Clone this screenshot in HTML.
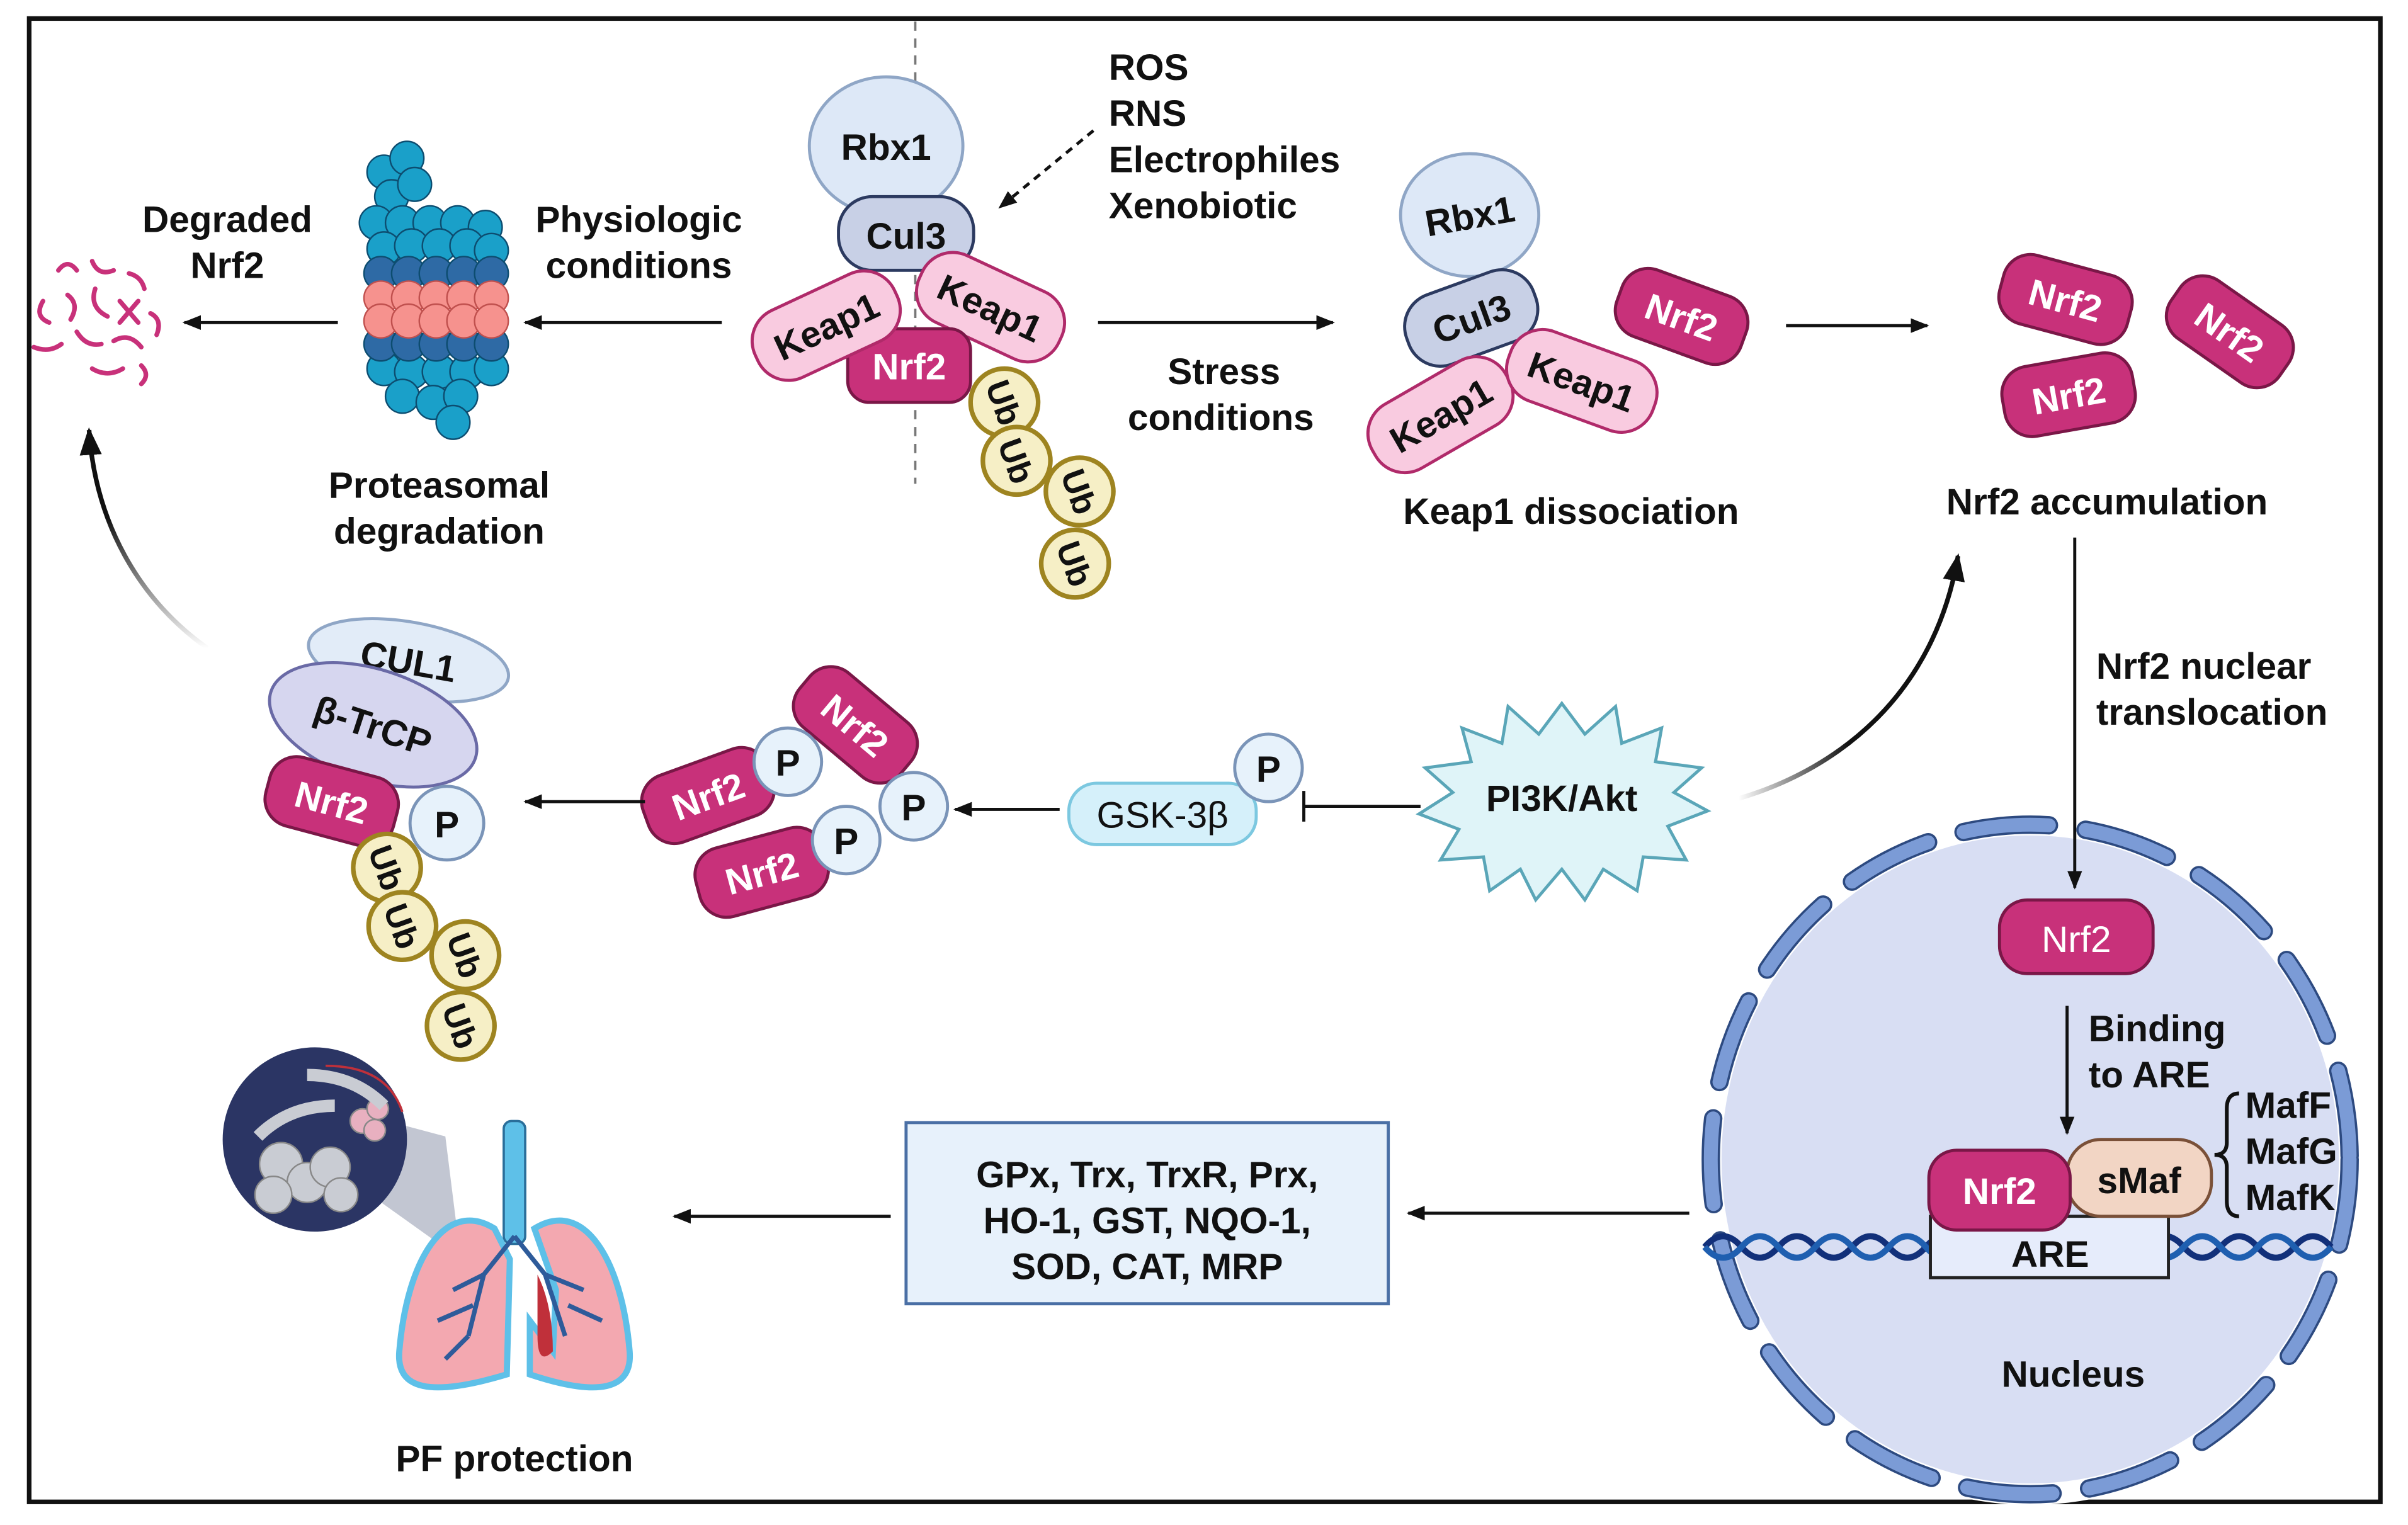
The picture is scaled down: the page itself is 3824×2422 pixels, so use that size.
<!DOCTYPE html>
<html><head><meta charset="utf-8">
<style>
html,body{margin:0;padding:0;background:#fff;}
svg{display:block;}
text{font-family:"Liberation Sans",Arial,sans-serif;font-weight:bold;fill:#111;}
.w{fill:#fff;}
</style></head>
<body>
<svg width="3824" height="2422" viewBox="0 0 1568 993" xmlns="http://www.w3.org/2000/svg">
<defs>
<marker id="ah" viewBox="0 0 10 10" refX="9" refY="5" markerWidth="6" markerHeight="6" orient="auto"><path d="M0,1 L10,5 L0,9 z" fill="#111"/></marker>
<linearGradient id="g1" x1="0" y1="1" x2="0" y2="0"><stop offset="0" stop-color="#111" stop-opacity="0"/><stop offset="0.6" stop-color="#111"/></linearGradient>
<linearGradient id="g2" x1="0" y1="0" x2="1" y2="0"><stop offset="0" stop-color="#111" stop-opacity="0"/><stop offset="0.5" stop-color="#111"/></linearGradient>
<g id="ub"><circle r="22" fill="#f6efc6" stroke="#9e8420" stroke-width="3"/></g>
<g id="p"><circle r="22" fill="#e7f2fb" stroke="#7a94b8" stroke-width="2"/><text y="9" text-anchor="middle" font-size="24">P</text></g>
</defs>
<rect x="0" y="0" width="1568" height="993" fill="#fff"/>
<rect x="19" y="12" width="1531" height="966" fill="none" stroke="#111" stroke-width="3"/>

<line x1="596" y1="14" x2="596" y2="315" stroke="#777" stroke-width="1.5" stroke-dasharray="6,5"/>

<!-- complex 1 -->
<ellipse cx="577" cy="95" rx="50" ry="45" fill="#dde8f7" stroke="#8fa6c6" stroke-width="2"/>
<text x="577" y="104" text-anchor="middle" font-size="24">Rbx1</text>
<rect x="546" y="128" width="88" height="48" rx="22" fill="#c8d0e6" stroke="#2c3a60" stroke-width="2"/>
<text x="590" y="162" text-anchor="middle" font-size="24">Cul3</text>
<g transform="translate(645,200) rotate(25)"><rect x="-50" y="-24" width="100" height="48" rx="22" fill="#f9cbe0" stroke="#b02a6a" stroke-width="2"/><text y="9" text-anchor="middle" font-size="24">Keap1</text></g>
<rect x="552" y="214" width="80" height="48" rx="14" fill="#c8317a" stroke="#7a1747" stroke-width="2"/>
<text x="592" y="247" text-anchor="middle" font-size="24" class="w">Nrf2</text>
<g transform="translate(538,212) rotate(-25)"><rect x="-50" y="-24" width="100" height="48" rx="22" fill="#f9cbe0" stroke="#b02a6a" stroke-width="2"/><text y="9" text-anchor="middle" font-size="24">Keap1</text></g>
<g transform="translate(654,262)"><use href="#ub"/><text transform="rotate(70)" y="8" text-anchor="middle" font-size="22">Ub</text></g>
<g transform="translate(662,300)"><use href="#ub"/><text transform="rotate(70)" y="8" text-anchor="middle" font-size="22">Ub</text></g>
<g transform="translate(703,320)"><use href="#ub"/><text transform="rotate(70)" y="8" text-anchor="middle" font-size="22">Ub</text></g>
<g transform="translate(700,367)"><use href="#ub"/><text transform="rotate(70)" y="8" text-anchor="middle" font-size="22">Ub</text></g>

<text x="722" y="52" font-size="24">ROS</text>
<text x="722" y="82" font-size="24">RNS</text>
<text x="722" y="112" font-size="24">Electrophiles</text>
<text x="722" y="142" font-size="24">Xenobiotic</text>
<line x1="712" y1="85" x2="651" y2="135" stroke="#111" stroke-width="2" stroke-dasharray="5,4" marker-end="url(#ah)"/>

<line x1="470" y1="210" x2="342" y2="210" stroke="#111" stroke-width="2" marker-end="url(#ah)"/>
<text x="416" y="151" text-anchor="middle" font-size="24">Physiologic</text>
<text x="416" y="181" text-anchor="middle" font-size="24">conditions</text>

<!-- proteasome -->
<g stroke="#0d4d70" stroke-width="1">
<g fill="#1aa0c9">
<circle cx="250" cy="112" r="11"/><circle cx="265" cy="103" r="11"/><circle cx="255" cy="128" r="11"/><circle cx="270" cy="120" r="11"/>
<circle cx="245" cy="145" r="11"/><circle cx="262" cy="145" r="11"/><circle cx="280" cy="145" r="11"/><circle cx="298" cy="145" r="11"/><circle cx="316" cy="148" r="11"/>
<circle cx="250" cy="162" r="11"/><circle cx="268" cy="160" r="11"/><circle cx="286" cy="160" r="11"/><circle cx="304" cy="160" r="11"/><circle cx="320" cy="163" r="11"/>
<circle cx="250" cy="240" r="11"/><circle cx="268" cy="242" r="11"/><circle cx="286" cy="242" r="11"/><circle cx="304" cy="242" r="11"/><circle cx="320" cy="240" r="11"/>
<circle cx="262" cy="258" r="11"/><circle cx="282" cy="262" r="11"/><circle cx="300" cy="258" r="11"/><circle cx="295" cy="275" r="11"/>
</g>
<g fill="#2e6aa5">
<circle cx="248" cy="178" r="11"/><circle cx="266" cy="178" r="11"/><circle cx="284" cy="178" r="11"/><circle cx="302" cy="178" r="11"/><circle cx="320" cy="178" r="11"/>
<circle cx="248" cy="224" r="11"/><circle cx="266" cy="224" r="11"/><circle cx="284" cy="224" r="11"/><circle cx="302" cy="224" r="11"/><circle cx="320" cy="224" r="11"/>
</g>
<g fill="#f6928e" stroke="#c0504e">
<circle cx="248" cy="194" r="11"/><circle cx="266" cy="194" r="11"/><circle cx="284" cy="194" r="11"/><circle cx="302" cy="194" r="11"/><circle cx="320" cy="194" r="11"/>
<circle cx="248" cy="209" r="11"/><circle cx="266" cy="209" r="11"/><circle cx="284" cy="209" r="11"/><circle cx="302" cy="209" r="11"/><circle cx="320" cy="209" r="11"/>
</g>
</g>
<text x="286" y="324" text-anchor="middle" font-size="24">Proteasomal</text>
<text x="286" y="354" text-anchor="middle" font-size="24">degradation</text>

<line x1="220" y1="210" x2="120" y2="210" stroke="#111" stroke-width="2" marker-end="url(#ah)"/>
<text x="148" y="151" text-anchor="middle" font-size="24">Degraded</text>
<text x="148" y="181" text-anchor="middle" font-size="24">Nrf2</text>
<g stroke="#c8317a" stroke-width="3" fill="none" stroke-linecap="round">
<path d="M38,176 q6,-8 12,0"/><path d="M60,170 q4,10 14,6"/><path d="M84,178 q8,2 10,10"/>
<path d="M28,196 q-6,10 4,14"/><path d="M44,192 q8,6 2,16"/><path d="M62,188 q-4,12 8,18"/>
<path d="M78,196 l12,14 M90,196 l-12,14"/><path d="M98,204 q8,4 4,14"/><path d="M22,226 q10,4 18,-2"/>
<path d="M50,216 q6,10 16,8"/><path d="M74,222 q10,-6 18,4"/><path d="M60,240 q10,6 20,0"/><path d="M92,238 q6,6 0,12"/>
</g>

<line x1="715" y1="210" x2="868" y2="210" stroke="#111" stroke-width="2" marker-end="url(#ah)"/>
<text x="797" y="250" text-anchor="middle" font-size="24">Stress</text>
<text x="795" y="280" text-anchor="middle" font-size="24">conditions</text>

<!-- complex 2 -->
<ellipse cx="957" cy="140" rx="45" ry="40" fill="#dde8f7" stroke="#8fa6c6" stroke-width="2"/>
<text x="957" y="149" text-anchor="middle" font-size="24" transform="rotate(-10 957 140)">Rbx1</text>
<g transform="translate(958,207) rotate(-20)"><rect x="-44" y="-24" width="88" height="48" rx="22" fill="#c8d0e6" stroke="#2c3a60" stroke-width="2"/><text y="9" text-anchor="middle" font-size="24">Cul3</text></g>
<g transform="translate(938,270) rotate(-30)"><rect x="-50" y="-24" width="100" height="48" rx="22" fill="#f9cbe0" stroke="#b02a6a" stroke-width="2"/><text y="9" text-anchor="middle" font-size="24">Keap1</text></g>
<g transform="translate(1030,248) rotate(20)"><rect x="-50" y="-24" width="100" height="48" rx="22" fill="#f9cbe0" stroke="#b02a6a" stroke-width="2"/><text y="9" text-anchor="middle" font-size="24">Keap1</text></g>
<g transform="translate(1095,206) rotate(20)"><rect x="-43" y="-23" width="86" height="46" rx="18" fill="#c8317a" stroke="#7a1747" stroke-width="2"/><text y="9" text-anchor="middle" font-size="24" class="w">Nrf2</text></g>
<text x="1023" y="341" text-anchor="middle" font-size="24">Keap1 dissociation</text>

<line x1="1163" y1="212" x2="1255" y2="212" stroke="#111" stroke-width="2" marker-end="url(#ah)"/>
<g transform="translate(1345,195) rotate(15)"><rect x="-43" y="-23" width="86" height="46" rx="18" fill="#c8317a" stroke="#7a1747" stroke-width="2"/><text y="9" text-anchor="middle" font-size="24" class="w">Nrf2</text></g>
<g transform="translate(1452,216) rotate(35)"><rect x="-43" y="-23" width="86" height="46" rx="18" fill="#c8317a" stroke="#7a1747" stroke-width="2"/><text y="9" text-anchor="middle" font-size="24" class="w">Nrf2</text></g>
<g transform="translate(1347,257) rotate(-10)"><rect x="-43" y="-23" width="86" height="46" rx="18" fill="#c8317a" stroke="#7a1747" stroke-width="2"/><text y="9" text-anchor="middle" font-size="24" class="w">Nrf2</text></g>
<text x="1372" y="335" text-anchor="middle" font-size="24">Nrf2  accumulation</text>

<!-- nucleus -->
<ellipse cx="1322" cy="755" rx="208" ry="218" fill="#d8def3"/>
<ellipse cx="1322" cy="755" rx="208" ry="218" fill="none" stroke="#fff" stroke-width="14"/>
<ellipse cx="1322" cy="755" rx="208" ry="218" fill="none" stroke="#2d4a80" stroke-width="12" stroke-dasharray="56,24" stroke-linecap="round"/>
<ellipse cx="1322" cy="755" rx="208" ry="218" fill="none" stroke="#7b9bd6" stroke-width="9" stroke-dasharray="56,24" stroke-linecap="round"/>

<line x1="1351" y1="350" x2="1351" y2="578" stroke="#111" stroke-width="2" marker-end="url(#ah)"/>
<text x="1365" y="442" font-size="24">Nrf2 nuclear</text>
<text x="1365" y="472" font-size="24">translocation</text>

<rect x="1302" y="586" width="100" height="48" rx="18" fill="#c8317a" stroke="#7a1747" stroke-width="2"/>
<text x="1352" y="620" text-anchor="middle" font-size="24" class="w" style="font-weight:normal">Nrf2</text>
<line x1="1346" y1="655" x2="1346" y2="738" stroke="#111" stroke-width="2" marker-end="url(#ah)"/>
<text x="1360" y="678" font-size="24">Binding</text>
<text x="1360" y="708" font-size="24">to ARE</text>

<g fill="none" stroke-width="4">
<path d="M1110,812 q12,-14 24,0 t24,0 t24,0 t24,0 t24,0 t24,0 t24,0 t24,0 t24,0 t24,0 t24,0 t24,0 t24,0 t24,0 t24,0 t24,0 t24,0" stroke="#12307a"/>
<path d="M1110,812 q12,14 24,0 t24,0 t24,0 t24,0 t24,0 t24,0 t24,0 t24,0 t24,0 t24,0 t24,0 t24,0 t24,0 t24,0 t24,0 t24,0 t24,0" stroke="#1f5fb0"/>
</g>
<rect x="1257" y="792" width="155" height="40" fill="#e6ecfb" stroke="#222" stroke-width="2"/>
<text x="1335" y="825" text-anchor="middle" font-size="24">ARE</text>
<rect x="1346" y="742" width="94" height="50" rx="22" fill="#f2d5c4" stroke="#7a5038" stroke-width="2"/>
<text x="1393" y="777" text-anchor="middle" font-size="24">sMaf</text>
<rect x="1256" y="749" width="92" height="52" rx="18" fill="#c8317a" stroke="#7a1747" stroke-width="2"/>
<text x="1302" y="784" text-anchor="middle" font-size="24" class="w">Nrf2</text>
<path d="M1458,712 q-8,0 -8,10 v22 q0,8 -8,8 q8,0 8,8 v22 q0,10 8,10" fill="none" stroke="#111" stroke-width="2.5"/>
<text x="1462" y="728" font-size="24">MafF</text>
<text x="1462" y="758" font-size="24">MafG</text>
<text x="1462" y="788" font-size="24">MafK</text>
<text x="1350" y="903" text-anchor="middle" font-size="24">Nucleus</text>

<line x1="1100" y1="790" x2="917" y2="790" stroke="#111" stroke-width="2" marker-end="url(#ah)"/>
<rect x="590" y="731" width="314" height="118" fill="#e7f1fb" stroke="#4a6fa5" stroke-width="2"/>
<text x="747" y="773" text-anchor="middle" font-size="24">GPx, Trx, TrxR, Prx,</text>
<text x="747" y="803" text-anchor="middle" font-size="24">HO-1, GST, NQO-1,</text>
<text x="747" y="833" text-anchor="middle" font-size="24">SOD, CAT, MRP</text>
<line x1="580" y1="792" x2="439" y2="792" stroke="#111" stroke-width="2" marker-end="url(#ah)"/>

<!-- lungs -->
<polygon points="215,720 290,740 300,820 230,770" fill="#9aa0b4" opacity="0.6"/>
<circle cx="205" cy="742" r="60" fill="#2b3564"/>
<g fill="#c9ccd3" stroke="#888" stroke-width="1">
<circle cx="183" cy="758" r="14"/><circle cx="200" cy="770" r="13"/><circle cx="178" cy="778" r="12"/><circle cx="215" cy="760" r="13"/><circle cx="222" cy="778" r="11"/>
<circle cx="236" cy="730" r="8" fill="#e8b0c0"/><circle cx="246" cy="722" r="7" fill="#e8b0c0"/><circle cx="244" cy="736" r="7" fill="#e8b0c0"/>
</g>
<path d="M168,740 q20,-20 50,-20 M200,700 q30,0 50,20" stroke="#c9ccd3" stroke-width="8" fill="none"/>
<path d="M212,694 q40,0 50,30" stroke="#c0303a" stroke-width="1.5" fill="none"/>
<rect x="328" y="730" width="14" height="80" rx="5" fill="#5ec0e8" stroke="#2a6e9a" stroke-width="1.5"/>
<path d="M322,800 C290,780 265,820 260,880 C258,905 280,910 330,895 L332,820 Z" fill="#f3a8b0" stroke="#5ec0e8" stroke-width="4"/>
<path d="M348,800 C380,780 405,820 410,880 C412,905 390,910 345,895 L345,860 L360,880 L362,840 Z" fill="#f3a8b0" stroke="#5ec0e8" stroke-width="4"/>
<path d="M350,830 q10,20 10,50 q-10,10 -10,-10 z" fill="#c0303a"/>
<g stroke="#2e5b9a" stroke-width="3" fill="none">
<path d="M335,805 L315,830 L295,840 M315,830 L305,870 M308,850 L285,860 M305,870 L290,885"/>
<path d="M335,805 L355,830 L380,840 M355,830 L368,870 M370,850 L392,860"/>
</g>
<text x="335" y="958" text-anchor="middle" font-size="24">PF protection</text>

<!-- PI3K -->
<polygon points="1017,458 1032,478 1052,460 1056,484 1082,474 1078,496 1108,500 1090,516 1112,528 1086,538 1098,560 1070,558 1066,580 1044,566 1032,586 1017,566 1000,586 990,566 970,580 966,558 938,560 950,540 924,530 946,516 928,500 958,496 952,474 978,484 982,460 1002,478" fill="#dff4f8" stroke="#5aa6b8" stroke-width="2"/>
<text x="1017" y="528" text-anchor="middle" font-size="24">PI3K/Akt</text>
<path d="M1132,520 C1200,500 1260,450 1275,362" fill="none" stroke="url(#g2)" stroke-width="3" marker-end="url(#ah)"/>
<line x1="925" y1="525" x2="849" y2="525" stroke="#111" stroke-width="2"/>
<line x1="849" y1="515" x2="849" y2="535" stroke="#111" stroke-width="2"/>
<rect x="696" y="510" width="122" height="40" rx="18" fill="#d5f0fa" stroke="#7cc8e0" stroke-width="2"/>
<text x="757" y="539" text-anchor="middle" font-size="24" style="font-weight:normal">GSK-3β</text>
<g transform="translate(826,500)"><use href="#p"/></g>
<line x1="690" y1="527" x2="622" y2="527" stroke="#111" stroke-width="2" marker-end="url(#ah)"/>

<g transform="translate(557,472) rotate(40)"><rect x="-43" y="-23" width="86" height="46" rx="18" fill="#c8317a" stroke="#7a1747" stroke-width="2"/><text y="9" text-anchor="middle" font-size="24" class="w">Nrf2</text></g>
<g transform="translate(461,518) rotate(-20)"><rect x="-43" y="-23" width="86" height="46" rx="18" fill="#c8317a" stroke="#7a1747" stroke-width="2"/><text y="9" text-anchor="middle" font-size="24" class="w">Nrf2</text></g>
<g transform="translate(496,568) rotate(-15)"><rect x="-43" y="-23" width="86" height="46" rx="18" fill="#c8317a" stroke="#7a1747" stroke-width="2"/><text y="9" text-anchor="middle" font-size="24" class="w">Nrf2</text></g>
<g transform="translate(513,496)"><use href="#p"/></g>
<g transform="translate(595,525)"><use href="#p"/></g>
<g transform="translate(551,547)"><use href="#p"/></g>
<line x1="420" y1="522" x2="342" y2="522" stroke="#111" stroke-width="2" marker-end="url(#ah)"/>

<g transform="translate(266,430) rotate(10)"><ellipse rx="66" ry="25" fill="#e2ecf8" stroke="#8fa6c6" stroke-width="2"/><text y="9" text-anchor="middle" font-size="24">CUL1</text></g>
<g transform="translate(243,472) rotate(18)"><ellipse rx="70" ry="36" fill="#d6d6ef" stroke="#6a6aa6" stroke-width="2"/><text y="9" text-anchor="middle" font-size="24">β-TrCP</text></g>
<g transform="translate(216,522) rotate(15)"><rect x="-43" y="-23" width="86" height="46" rx="18" fill="#c8317a" stroke="#7a1747" stroke-width="2"/><text y="9" text-anchor="middle" font-size="24" class="w">Nrf2</text></g>
<g transform="translate(291,536)"><circle r="24" fill="#e7f2fb" stroke="#7a94b8" stroke-width="2"/><text y="9" text-anchor="middle" font-size="24">P</text></g>
<g transform="translate(252,565)"><use href="#ub"/><text transform="rotate(70)" y="8" text-anchor="middle" font-size="22">Ub</text></g>
<g transform="translate(262,603)"><use href="#ub"/><text transform="rotate(70)" y="8" text-anchor="middle" font-size="22">Ub</text></g>
<g transform="translate(303,622)"><use href="#ub"/><text transform="rotate(70)" y="8" text-anchor="middle" font-size="22">Ub</text></g>
<g transform="translate(300,668)"><use href="#ub"/><text transform="rotate(70)" y="8" text-anchor="middle" font-size="22">Ub</text></g>

<path d="M135,422 C90,390 62,340 58,280" fill="none" stroke="url(#g1)" stroke-width="3" marker-end="url(#ah)"/>
</svg>
</body></html>
